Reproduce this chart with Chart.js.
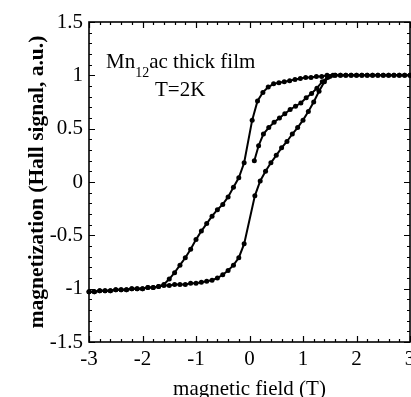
<!DOCTYPE html>
<html lang="en">
  <head>
    <meta charset="UTF-8" />
    <title>Mn12ac thick film - Hall magnetization</title>
    <script src="https://cdn.jsdelivr.net/npm/chart.js@4.4.1/dist/chart.umd.min.js"></script>
    <style>
      html,
      body {
        margin: 0;
        padding: 0;
        background: #fff;
      }
    </style>
  </head>
  <body>
    <canvas id="loop" width="411" height="397"></canvas>
    <script>
      // increasing field branch (left side of the loop)
      var upField = [
        -3.0, -2.9, -2.8, -2.7, -2.6, -2.5, -2.4, -2.3, -2.2, -2.1, -2.0, -1.9,
        -1.8, -1.7, -1.6, -1.5, -1.4, -1.3, -1.2, -1.1, -1.0, -0.9, -0.8, -0.7,
        -0.6, -0.5, -0.4, -0.3, -0.2, -0.1, 0.05, 0.15, 0.25, 0.35, 0.45, 0.55,
        0.65, 0.75, 0.85, 0.95, 1.05, 1.15, 1.25, 1.35, 1.45, 1.6, 1.7, 1.8,
        1.9, 2.0, 2.1, 2.2, 2.3, 2.4, 2.5, 2.6, 2.7, 2.8, 2.9, 3.0,
      ];
      var upSignal = [
        -1.03, -1.03, -1.02, -1.02, -1.02, -1.01, -1.01, -1.01, -1.0, -1.0,
        -1.0, -0.99, -0.99, -0.98, -0.96, -0.91, -0.85, -0.78, -0.71, -0.63,
        -0.54, -0.46, -0.39, -0.32, -0.26, -0.21, -0.14, -0.05, 0.04, 0.18,
        0.58, 0.76, 0.84, 0.89, 0.92, 0.93, 0.94, 0.95, 0.96, 0.97, 0.98, 0.98,
        0.99, 0.99, 1.0, 1.0, 1.0, 1.0, 1.0, 1.0, 1.0, 1.0, 1.0, 1.0, 1.0, 1.0,
        1.0, 1.0, 1.0, 1.0,
      ];

      // decreasing field branch (right side of the loop)
      var downField = [
        3.0, 2.9, 2.8, 2.7, 2.6, 2.5, 2.4, 2.3, 2.2, 2.1, 2.0, 1.9, 1.8, 1.7,
        1.6, 1.5, 1.4, 1.3, 1.2, 1.1, 1.0, 0.9, 0.8, 0.7, 0.6, 0.5, 0.4, 0.3,
        0.2, 0.1, -0.1, -0.2, -0.3, -0.4, -0.5, -0.6, -0.7, -0.8, -0.9, -1.0,
        -1.1, -1.2, -1.3, -1.4, -1.5, -1.6, -1.7, -1.8, -1.9, -2.0, -2.1, -2.2,
        -2.3, -2.4, -2.5, -2.6, -2.7, -2.8, -2.9, -3.0,
      ];
      var downSignal = [
        1.0, 1.0, 1.0, 1.0, 1.0, 1.0, 1.0, 1.0, 1.0, 1.0, 1.0, 1.0, 1.0, 1.0,
        1.0, 0.99, 0.94, 0.85, 0.75, 0.66, 0.58, 0.51, 0.45, 0.38, 0.32, 0.25,
        0.18, 0.1, 0.01, -0.13, -0.58, -0.71, -0.78, -0.83, -0.87, -0.9, -0.92,
        -0.93, -0.94, -0.95, -0.95, -0.96, -0.96, -0.96, -0.97, -0.97, -0.98,
        -0.99, -0.99, -1.0, -1.0, -1.0, -1.01, -1.01, -1.01, -1.02, -1.02,
        -1.02, -1.03, -1.03,
      ];

      // first magnetization curve starting near zero field
      var virginField = [
        0.09, 0.17, 0.26, 0.36, 0.46, 0.56, 0.66, 0.76, 0.86, 0.96, 1.06, 1.16,
        1.26, 1.36, 1.46, 1.56,
      ];
      var virginSignal = [
        0.2, 0.34, 0.45, 0.51, 0.56, 0.6, 0.64, 0.68, 0.71, 0.74, 0.79, 0.83,
        0.88, 0.94, 0.98, 1.0,
      ];

      // tick labels
      var xTicks = [-3, -2, -1, 0, 1, 2, 3];
      var yTicks = [-1.5, -1, -0.5, 0, 0.5, 1, 1.5];

      function toPoints(xs, ys) {
        return xs.map(function (x, i) {
          return { x: x, y: ys[i] };
        });
      }

      function branch(label, xs, ys) {
        return {
          label: label,
          data: toPoints(xs, ys),
          showLine: true,
          borderColor: "#000",
          backgroundColor: "#000",
          borderWidth: 2,
          pointRadius: 2.5,
          pointBorderWidth: 0,
          tension: 0,
        };
      }

      function plainLabel(v) {
        return String(v);
      }

      var serif = "'Liberation Serif', 'Times New Roman', serif";

      // inner ticks on all four sides + frame + annotation
      var frameAndTicks = {
        id: "frameAndTicks",
        afterDatasetsDraw: function (chart) {
          var ctx = chart.ctx;
          var a = chart.chartArea;
          var xs = chart.scales.x;
          var ys = chart.scales.y;
          ctx.save();
          ctx.strokeStyle = "#000";
          ctx.lineWidth = 1.2;
          ctx.beginPath();
          var i, v, p, len;
          for (i = 0; i <= 30; i++) {
            v = -3 + i * 0.2;
            p = Math.round(xs.getPixelForValue(v)) + 0.5;
            len = i % 5 === 0 ? 6 : 3;
            ctx.moveTo(p, a.bottom);
            ctx.lineTo(p, a.bottom - len);
            ctx.moveTo(p, a.top);
            ctx.lineTo(p, a.top + len);
          }
          for (i = 0; i <= 30; i++) {
            v = -1.5 + i * 0.1;
            p = Math.round(ys.getPixelForValue(v)) + 0.5;
            len = i % 5 === 0 ? 6 : 3;
            ctx.moveTo(a.left, p);
            ctx.lineTo(a.left + len, p);
            ctx.moveTo(a.right, p);
            ctx.lineTo(a.right - len, p);
          }
          ctx.stroke();
          ctx.lineWidth = 1.6;
          ctx.strokeRect(a.left, a.top, a.right - a.left, a.bottom - a.top);

          // sample label
          ctx.fillStyle = "#000";
          ctx.textBaseline = "alphabetic";
          ctx.font = "21px " + serif;
          var x0 = 106;
          ctx.fillText("Mn", x0, 68);
          x0 += ctx.measureText("Mn").width;
          ctx.font = "14px " + serif;
          ctx.fillText("12", x0, 77);
          x0 += ctx.measureText("12").width;
          ctx.font = "21px " + serif;
          ctx.fillText("ac thick film", x0, 68);
          ctx.fillText("T=2K", 155, 96);
          ctx.restore();
        },
      };

      new Chart(document.getElementById("loop").getContext("2d"), {
        type: "scatter",
        data: {
          datasets: [
            branch("increasing field", upField, upSignal),
            branch("decreasing field", downField, downSignal),
            branch("first magnetization", virginField, virginSignal),
          ],
        },
        options: {
          responsive: false,
          animation: false,
          clip: false,
          layout: {
            autoPadding: false,
            padding: { top: 22, right: 1, left: 0, bottom: 0 },
          },
          plugins: {
            legend: { display: false },
            tooltip: { enabled: false },
          },
          scales: {
            x: {
              type: "linear",
              min: -3,
              max: 3,
              grid: { display: false, drawTicks: false },
              border: { display: false },
              afterBuildTicks: function (scale) {
                scale.ticks = xTicks.map(function (v) {
                  return { value: v };
                });
              },
              afterFit: function (scale) {
                scale.height = 55;
                scale.paddingLeft = 0;
                scale.paddingRight = 0;
              },
              ticks: {
                padding: 5,
                color: "#000",
                maxRotation: 0,
                callback: plainLabel,
                font: { family: serif, size: 21 },
              },
              title: {
                display: true,
                text: "magnetic field (T)",
                color: "#000",
                font: { family: serif, size: 21, lineHeight: 0.72 },
                padding: { top: 0, bottom: 0 },
              },
            },
            y: {
              type: "linear",
              min: -1.5,
              max: 1.5,
              grid: { display: false, drawTicks: false },
              border: { display: false },
              afterBuildTicks: function (scale) {
                scale.ticks = yTicks.map(function (v) {
                  return { value: v };
                });
              },
              afterFit: function (scale) {
                scale.width = 89;
              },
              ticks: {
                padding: 6,
                color: "#000",
                callback: plainLabel,
                font: { family: serif, size: 21 },
              },
              title: {
                display: true,
                text: "magnetization (Hall signal, a.u.)",
                color: "#000",
                font: { family: serif, size: 21.5, weight: "bold", lineHeight: 1 },
                padding: { top: 27, bottom: 0 },
              },
            },
          },
        },
        plugins: [frameAndTicks],
      });
    </script>
  </body>
</html>
